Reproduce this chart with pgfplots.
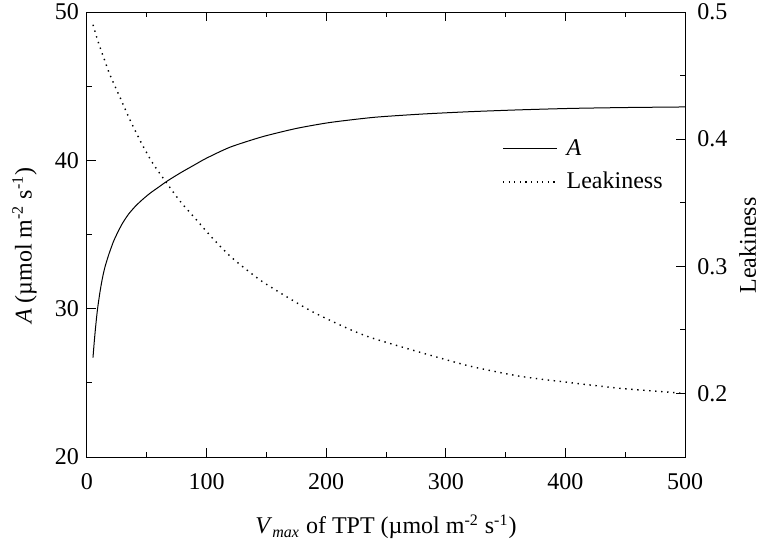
\documentclass[border=0pt]{standalone}
\usepackage{fontspec}
\setmainfont{Liberation Serif}
\usepackage{pgfplots}
\pgfplotsset{compat=1.18}

\pgfplotstableread{
x A
5 26.7
6 27.7
7 28.6
8 29.4
9 30.1
11 31.2
13 32.1
15 32.8
18 33.6
22 34.5
26 35.2
30 35.8
35 36.4
41 36.95
47 37.4
53 37.8
60 38.2
67 38.6
78 39.15
90 39.7
100 40.15
120 40.9
147 41.6
175 42.15
203 42.55
240 42.9
280 43.12
320 43.28
360 43.4
404 43.5
450 43.56
500 43.6
}\tabA

\pgfplotstableread{
x L
5 0.490
9.5 0.476
14 0.464
19 0.451
28 0.432
36 0.415
46 0.396
55 0.381
67 0.365
78 0.351
92 0.336
106 0.321
122 0.306
145 0.289
167 0.276
189 0.264
217 0.2515
237 0.2440
278 0.2325
320 0.2215
362 0.2135
404 0.2085
446 0.2040
500 0.2000
}\tabL

\pgfplotsset{
  common/.style={
    scale only axis, width=299pt, height=222.5pt,
    xmin=0, xmax=500,
    tick align=inside,
    major tick length=4.5pt, minor tick length=2.5pt,
    /pgf/number format/assume math mode=true,
    tick label style={font=\fontsize{12}{14}\selectfont},
    label style={font=\fontsize{12}{14}\selectfont},
    axis line style={line width=0.5pt},
    every tick/.style={black, line width=0.5pt},
  }
}

\begin{document}
\begin{tikzpicture}
\begin{axis}[common,
  ymin=20, ymax=50,
  xtick={0,100,...,500}, minor xtick={50,150,...,450},
  ytick={20,30,40,50}, minor ytick={25,35,45},
  xtick pos=both, xticklabel pos=lower,
  ytick pos=left,
  yticklabel style={xshift=-0.5pt},
  xticklabel style={yshift=-4.5pt},
  xlabel={\textit{V}\textsubscript{\textit{max}} of TPT (µmol m\textsuperscript{-2} s\textsuperscript{-1})},
  ylabel={\textit{A} (µmol m\textsuperscript{-2} s\textsuperscript{-1})},
  xlabel style={at={(axis description cs:0.5,-0.173)}, anchor=base},
  ylabel style={at={(axis description cs:-0.0928,0.475)}, anchor=base, rotate=0},
  legend style={at={(axis description cs:0.694,0.724)}, anchor=north west, draw=none, fill=none,
    font=\fontsize{12}{14}\selectfont, row sep=3pt, inner sep=0pt},
  legend cell align=left,
  legend image code/.code={\draw[#1] (0pt,0pt) -- (27pt,0pt); \path (29.5pt,0pt);},
]
\addplot[black, line width=0.5pt, smooth, tension=0.4] table[x=x,y=A] {\tabA};
\addlegendentry{\textit{A}}
\addlegendimage{black, line width=0.6pt, dash pattern=on 0.6pt off 2.2pt}
\addlegendentry{Leakiness}
\end{axis}
\begin{axis}[common,
  ymin=0.15, ymax=0.5,
  axis x line=none,
  axis y line*=right,
  ytick={0.2,0.3,0.4,0.5}, minor ytick={0.15,0.25,0.35,0.45},
  yticklabel style={xshift=2.7pt, /pgf/number format/fixed, /pgf/number format/precision=1},
  ylabel={Leakiness},
  ylabel style={at={(axis description cs:1.1187,0.475)}, anchor=base, rotate=0},
]
\addplot[black, line width=0.7pt, dash pattern=on 0.7pt off 2.3pt, smooth, tension=0.4] table[x=x,y=L] {\tabL};
\end{axis}
\pgfresetboundingbox
\path[use as bounding box] (-43.5pt,-48pt) rectangle (336pt,228.5pt);
\end{tikzpicture}
\end{document}
